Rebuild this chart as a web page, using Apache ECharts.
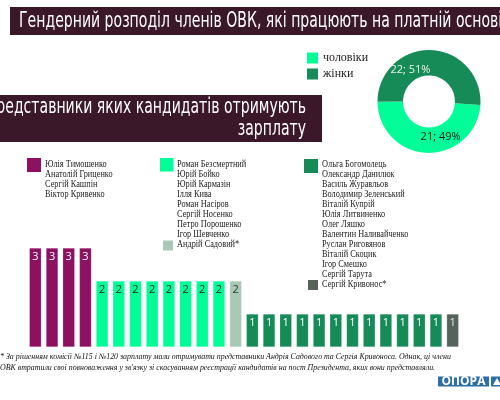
<!DOCTYPE html>
<html>
<head>
<meta charset="utf-8">
<script src="https://cdn.jsdelivr.net/npm/echarts@6/dist/echarts.min.js"></script>
<style>
html, body { margin: 0; padding: 0; background: #fff; }
#main { width: 500px; height: 400px; }
</style>
</head>
<body>
<div id="main"></div>
<script>
// кандидати, чиї представники отримують зарплату
var candidates = [
    'Юлія Тимошенко', 'Анатолій Гриценко', 'Сергій Кашпін', 'Віктор Кривенко',
    'Роман Безсмертний', 'Юрій Бойко', 'Юрій Кармазін', 'Ілля Кива',
    'Роман Насіров', 'Сергій Носенко', 'Петро Порошенко', 'Ігор Шевченко',
    'Андрій Садовий',
    'Ольга Богомолець', 'Олександр Данилюк', 'Василь Журавльов', 'Володимир Зеленський',
    'Віталій Купрій', 'Юлія Литвиненко', 'Олег Ляшко', 'Валентин Наливайченко',
    'Руслан Риговянов', 'Віталій Скоцик', 'Ігор Смешко', 'Сергій Тарута',
    'Сергій Кривонос'
];
// кількість членів ОВК на платній основі
var paidMembers = [3, 3, 3, 3, 2, 2, 2, 2, 2, 2, 2, 2, 2,
    1, 1, 1, 1, 1, 1, 1, 1, 1, 1, 1, 1, 1];
// група (колір) для кожного кандидата
var groupIndex = [0, 0, 0, 0, 1, 1, 1, 1, 1, 1, 1, 1, 2,
    3, 3, 3, 3, 3, 3, 3, 3, 3, 3, 3, 3, 4];
var groupColors = ['#8c1160', '#00fd98', '#a9c8b5', '#178b57', '#55635b'];
var groupLabelColors = ['#ffffff', '#1d1d1d', '#333333', '#ffffff', '#e6e6e6'];

// гендерний розподіл
var genderNames = ['чоловіки', 'жінки'];
var genderCounts = [21, 22];
var genderColors = ['#00fd98', '#178b57'];
var genderLabelColors = ['#1a1a1a', '#e8f5ee'];

var myChart = echarts.init(document.getElementById('main'));

var barData = paidMembers.map(function (v, i) {
    var g = groupIndex[i];
    return {
        value: v,
        itemStyle: { color: groupColors[g] },
        label: { color: groupLabelColors[g] }
    };
});

// списки кандидатів (як легенда)
var listBlocks = [
    { from: 0, to: 3, sx: 27, sy: 158, size: 14, tx: 45, ty: 159.5, star: false },
    { from: 4, to: 11, sx: 160, sy: 158, size: 13.5, tx: 177, ty: 159.5, star: false },
    { from: 12, to: 12, sx: 163, sy: 240.5, size: 10, tx: 177, ty: 239.5, star: true },
    { from: 13, to: 24, sx: 304, sy: 159, size: 14, tx: 322, ty: 159.5, star: false },
    { from: 25, to: 25, sx: 308, sy: 280, size: 10, tx: 322, ty: 279.5, star: true }
];

var bannerFont = '22px "Liberation Sans Narrow", "DejaVu Sans Condensed", "Liberation Sans", sans-serif';

var graphics = [
    {
        type: 'rect', left: 10, top: 7, silent: true,
        shape: { width: 490, height: 28 },
        style: { fill: '#3a1729' }
    },
    {
        type: 'text', x: 19, y: 21.5, scaleX: 0.71, silent: true,
        style: {
            x: 0, y: 0,
            text: 'Гендерний розподіл членів ОВК, які працюють на платній основі',
            fill: '#ffffff',
            font: bannerFont,
            verticalAlign: 'middle'
        }
    },
    {
        type: 'rect', left: 0, top: 95, silent: true,
        shape: { width: 322, height: 47 },
        style: { fill: '#3a1729' }
    },
    {
        type: 'text', x: 306, y: 118, scaleX: 0.71, silent: true,
        style: {
            x: 0, y: 0,
            text: 'Представники яких кандидатів отримують\nзарплату',
            fill: '#ffffff',
            font: bannerFont,
            lineHeight: 22,
            align: 'right',
            verticalAlign: 'middle'
        }
    },
    {
        type: 'text', x: 0, y: 362.5, silent: true,
        style: {
            x: 0, y: 0,
            text: '* За рішенням комісії №115 і №120 зарплату мали отримувати представники Андрія Садового та Сергія Кривоноса. Однак, ці члени\n' +
                'ОВК втратили свої повноваження у зв\'язку зі скасуванням реєстрації кандидатів на пост Президента, яких вони представляли.',
            fill: '#111111',
            font: 'italic 7.9px "Liberation Serif", serif',
            lineHeight: 10.5,
            verticalAlign: 'middle'
        }
    },
    {
        type: 'rect', left: 438, top: 376.5, silent: true,
        shape: { width: 51, height: 10 },
        style: { fill: '#2c6ea5' }
    },
    {
        type: 'text', x: 463.5, y: 381.8, silent: true,
        style: {
            x: 0, y: 0, text: 'ОПОРА', fill: '#ffffff',
            font: 'bold 12px "Open Sans", sans-serif',
            align: 'center', verticalAlign: 'middle'
        }
    },
    {
        type: 'rect', left: 491, top: 376.5, silent: true,
        shape: { width: 9, height: 10 },
        style: { fill: '#2c6ea5' }
    },
    {
        type: 'polygon', silent: true,
        shape: { points: [[493, 385], [497, 378], [501, 385]] },
        style: { fill: '#ffffff' }
    }
];

listBlocks.forEach(function (b) {
    var g = groupIndex[b.from];
    var names = candidates.slice(b.from, b.to + 1).map(function (n) {
        return b.star ? n + '*' : n;
    });
    graphics.push({
        type: 'rect', left: b.sx, top: b.sy, silent: true,
        shape: { width: b.size, height: b.size },
        style: { fill: groupColors[g] }
    });
    graphics.push({
        type: 'text', x: b.tx, y: b.ty, scaleX: 0.83, silent: true,
        style: {
            x: 0, y: 0,
            text: names.join('\n'),
            fill: '#222222',
            font: '10px "Liberation Serif", serif',
            lineHeight: 10,
            verticalAlign: 'top'
        }
    });
});

var option = {
    backgroundColor: '#ffffff',
    animation: false,
    legend: {
        data: genderNames,
        orient: 'vertical',
        left: 302,
        top: 47,
        icon: 'rect',
        itemWidth: 11,
        itemHeight: 11,
        itemGap: 4,
        textStyle: {
            fontFamily: '"Liberation Serif", serif',
            fontSize: 12,
            color: '#222'
        }
    },
    grid: {
        left: 27,
        right: 39,
        top: 248,
        bottom: 53
    },
    xAxis: {
        type: 'category',
        data: candidates,
        show: false
    },
    yAxis: {
        type: 'value',
        min: 0,
        max: 3,
        show: false
    },
    series: [
        {
            type: 'bar',
            data: barData,
            barCategoryGap: '28%',
            itemStyle: {
                borderColor: 'rgba(255,255,255,0.35)',
                borderWidth: 0.5
            },
            label: {
                show: true,
                position: 'insideTop',
                distance: 3,
                fontFamily: '"Open Sans", sans-serif',
                fontSize: 11
            }
        },
        {
            type: 'pie',
            center: [429, 101.5],
            radius: [26, 51.5],
            startAngle: -4,
            percentPrecision: 0,
            data: genderNames.map(function (n, i) {
                return {
                    name: n,
                    value: genderCounts[i],
                    itemStyle: { color: genderColors[i] },
                    label: { color: genderLabelColors[i] }
                };
            }),
            label: {
                show: true,
                position: 'inside',
                formatter: '{c}; {d}%',
                fontFamily: '"Open Sans", sans-serif',
                fontSize: 11
            },
            labelLayout: function (p) {
                return p.dataIndex === 0 ? { dx: 13, dy: -6 } : { dx: -20, dy: 10 };
            }
        }
    ],
    graphic: graphics
};

myChart.setOption(option);
</script>
</body>
</html>
